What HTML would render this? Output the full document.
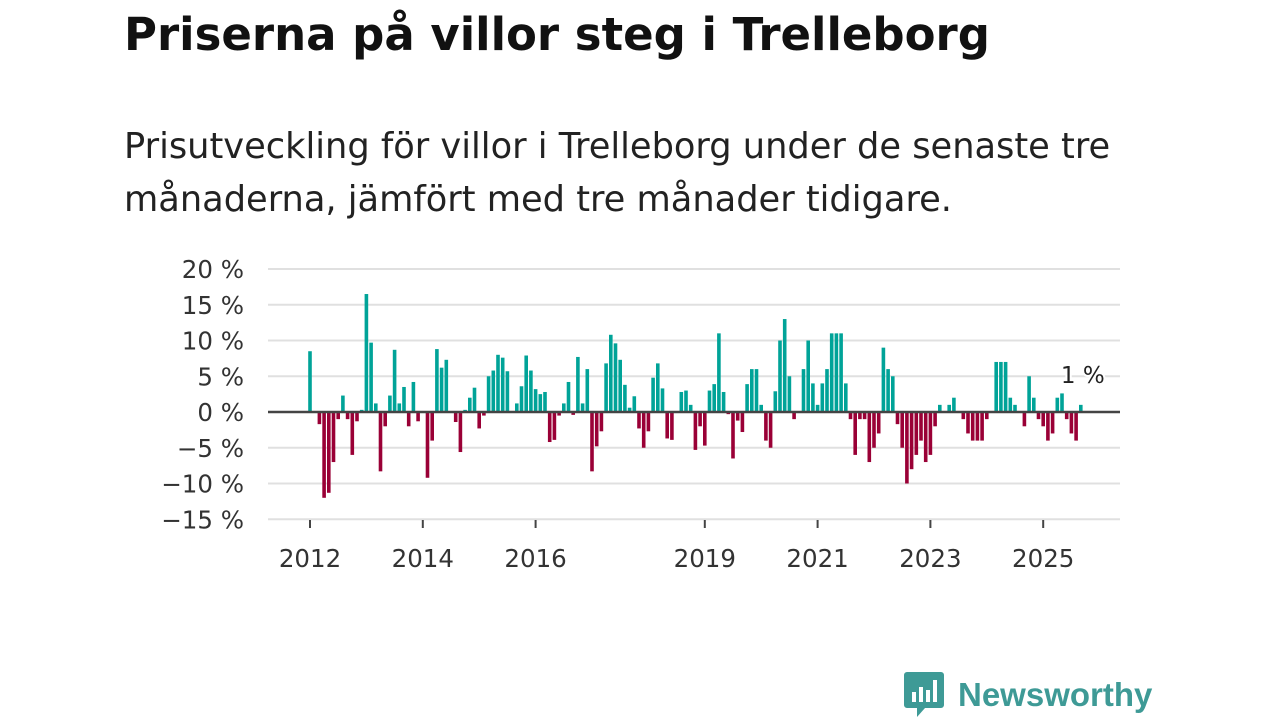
<!DOCTYPE html>
<html><head><meta charset="utf-8"><style>
body{margin:0;width:1280px;height:720px;background:#fff;font-family:"DejaVu Sans","Liberation Sans",sans-serif;overflow:hidden;position:relative;color:#111}
h1{position:absolute;left:124px;top:8px;margin:0;font-size:45px;font-weight:bold;color:#111;white-space:nowrap}
p.sub{position:absolute;left:124px;top:120px;margin:0;font-size:35.2px;line-height:53px;color:#222;width:1060px}
svg text{font-family:"DejaVu Sans","Liberation Sans",sans-serif}
</style></head><body>
<h1>Priserna på villor steg i Trelleborg</h1>
<p class="sub">Prisutveckling för villor i Trelleborg under de senaste tre månaderna, jämfört med tre månader tidigare.</p>
<svg id="chart" width="1280" height="720" style="position:absolute;left:0;top:0"></svg>
<div style="position:absolute;left:903px;top:670px;display:flex;align-items:center;font-family:'Liberation Sans',sans-serif">
<svg width="42" height="50"><path d="M4 2h34a3 3 0 0 1 3 3v30a3 3 0 0 1-3 3H22l-8 9v-9H4a3 3 0 0 1-3-3V5a3 3 0 0 1 3-3z" fill="#3e9a96"/><rect x="9" y="22" width="4" height="10" fill="#fff"/><rect x="16" y="17" width="4" height="15" fill="#fff"/><rect x="23" y="20" width="4" height="12" fill="#fff"/><rect x="30" y="10" width="4" height="22" fill="#fff"/></svg>
<span style="margin-left:13px;font-size:33px;font-weight:bold;color:#3e9a96">Newsworthy</span></div>
<script>
const values=[8.5,0,-1.7,-12,-11.3,-7,-1,2.3,-1,-6,-1.3,0.3,16.5,9.7,1.2,-8.3,-2,2.3,8.7,1.2,3.5,-2,4.2,-1.3,0,-9.2,-4,8.8,6.2,7.3,0,-1.4,-5.6,0.3,2,3.4,-2.3,-0.5,5,5.8,8,7.6,5.7,0,1.2,3.6,7.9,5.8,3.2,2.5,2.8,-4.2,-3.9,
-0.5,1.2,4.2,-0.4,7.7,1.2,6,-8.3,-4.8,-2.7,6.8,10.8,9.6,7.3,3.8,0.6,2.2,-2.3,-5,-2.7,4.8,6.8,3.3,-3.7,-3.9,0,2.8,3,1,-5.3,-2,-4.7,
3,3.9,11,2.8,-0.3,-6.5,-1.2,-2.8,3.9,6,6,1,-4,-5,2.9,10,13,5,-1,0,6,10,4,1,4,6,11,11,11,4,-1,-6,-1,-1,-7,-5,-3,9,6,5,-1.7,-5,-10,-8,-6,-4,-7,-6,-2,1,0,1,2,0,-1,-3,-4,-4,-4,-1,0,7,7,7,2,1,0,-2,5,2,-1,-2,-4,-3,2,2.6,-1,-3,-4,1];
const yTicks=[20,15,10,5,0,-5,-10,-15];
const yLabels=["20 %","15 %","10 %","5 %","0 %","−5 %","−10 %","−15 %"];
const xTickIdx=[0,24,48,84,108,132,156];
const xLabels=["2012","2014","2016","2019","2021","2023","2025"];
const lastLabel="1 %";
const svg=document.getElementById('chart');const NS='http://www.w3.org/2000/svg';
const y=v=>412-v*7.15;const x=i=>310+i*4.7;
function mk(t,a){const e=document.createElementNS(NS,t);for(const k in a)e.setAttribute(k,a[k]);svg.appendChild(e);return e;}
yTicks.forEach((v,i)=>{if(v!==0){const l=mk('line',{x1:268,x2:1120,y1:y(v),y2:y(v),stroke:'#e0e0e0','stroke-width':2});

}
const t=mk('text',{x:244,y:y(v)+9,'text-anchor':'end','font-size':24.5,fill:'#333'});t.textContent=yLabels[i];

});
xTickIdx.forEach((ix,i)=>{const l=mk('line',{x1:x(ix),x2:x(ix),y1:520,y2:528,stroke:'#444','stroke-width':2});


const t=mk('text',{x:x(ix),y:567,'text-anchor':'middle','font-size':24.5,fill:'#333'});t.textContent=xLabels[i];

});
values.forEach((v,i)=>{if(v===0)return;const r=mk('rect',{x:x(i)-1.8,width:3.6,y:Math.min(y(v),412),height:Math.abs(y(v)-412),fill:v>0?'#00a398':'#9a0036'});

});
const z=mk('line',{x1:268,x2:1120,y1:412,y2:412,stroke:'#444','stroke-width':2.5});


const li=values.length-1;
const lt=mk('text',{x:x(li)+2,y:Math.min(y(values[li]),412)-22,'text-anchor':'middle','font-size':23,fill:'#222',stroke:'#fff','stroke-width':4,'paint-order':'stroke'});lt.textContent=lastLabel;


</script>
</body></html>
